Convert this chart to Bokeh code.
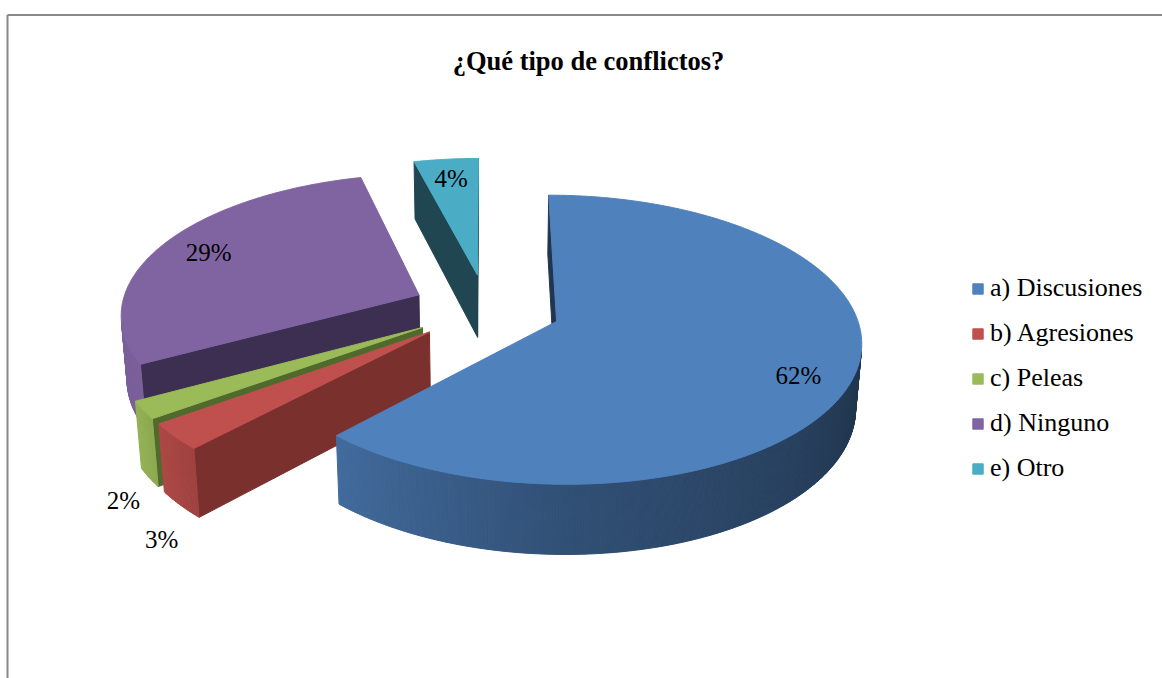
import numpy as np
from bokeh.plotting import figure
from bokeh.models import ColumnDataSource, Legend, LegendItem, Range1d
from bokeh.core.properties import value
from bokeh.embed import file_html
from bokeh.resources import INLINE

# ---------------- data ----------------
title_text = "¿Qué tipo de conflictos?"
categories = ["a) Discusiones", "b) Agresiones", "c) Peleas", "d) Ninguno", "e) Otro"]
values = [62, 3, 2, 29, 4]
top_colors = ["#4F81BD", "#C0504D", "#9BBB59", "#8064A2", "#4BACC6"]
radial_colors = ["#213550", "#7A302D", "#4F6A2C", "#3D2F51", "#1F4651"]
label_inside = [True, False, False, True, True]
label_xoff = [0, -2, -9, 0, 0]
label_yoff = [9, 21, 9, 0, 0]

# ---------------- layout / projection ----------------
W_FIG, H_FIG = 1162, 678
CX, CY = 486.0, 308.0        # screen position of pie centre
G = 298.0                    # horizontal scale (px per radius)
SIN_PHI = 0.4664             # elevation of view
COS_PHI = (1 - SIN_PHI ** 2) ** 0.5
Q = 0.1413                   # perspective strength
EXPLODE = 0.25
HEIGHT = 0.245
CAM_W = -COS_PHI / Q


def den_of(Y, Wd):
    return 1 + Q * (Wd * COS_PHI - Y * SIN_PHI)


def project(X, Y, Wd):
    d = den_of(Y, Wd)
    sx = CX + G * X / d
    sy = CY - G * (Y * COS_PHI + Wd * SIN_PHI) / d
    return sx, H_FIG - sy


def shade(hexc, f):
    rgb = [int(hexc[i:i + 2], 16) for i in (1, 3, 5)]
    return "#%02x%02x%02x" % tuple(max(0, min(255, int(round(c * f)))) for c in rgb)


def visible(nx, nw, px, pw):
    return nx * (0 - px) + nw * (CAM_W - pw) > 0


total = float(sum(values))
side_xs, side_ys, side_col, side_depth = [], [], [], []
top_xs, top_ys = [], []
lab_x, lab_y, lab_t, lab_align, lab_base = [], [], [], [], []

a0 = 0.0
for i, v in enumerate(values):
    a1 = a0 + 360.0 * v / total
    mid = np.radians((a0 + a1) / 2)
    ox, ow = EXPLODE * np.sin(mid), EXPLODE * np.cos(mid)
    n = max(3, int((a1 - a0) * 2) + 1)
    th = np.radians(np.linspace(a0, a1, n))

    # top face
    X = np.concatenate([[ox], ox + np.sin(th)])
    Wd = np.concatenate([[ow], ow + np.cos(th)])
    x, y = project(X, np.zeros_like(X), Wd)
    top_xs.append(list(x)); top_ys.append(list(y))

    # curved outer side
    for j in range(n - 1):
        t0, t1 = th[j], th[j + 1]
        tm = 0.5 * (t0 + t1)
        px, pw = ox + np.sin(tm), ow + np.cos(tm)
        if not visible(np.sin(tm), np.cos(tm), px, pw):
            continue
        Xq = [ox + np.sin(t0), ox + np.sin(t1), ox + np.sin(t1), ox + np.sin(t0)]
        Wq = [ow + np.cos(t0), ow + np.cos(t1), ow + np.cos(t1), ow + np.cos(t0)]
        Yq = [0, 0, -HEIGHT, -HEIGHT]
        x, y = project(np.array(Xq), np.array(Yq, float), np.array(Wq))
        f = np.interp(np.degrees(tm) % 360, [0, 95, 180, 225, 240, 360],
                      [0.38, 0.38, 0.62, 0.84, 0.95, 0.95])
        side_xs.append(list(x)); side_ys.append(list(y))
        side_col.append(shade(top_colors[i], f))
        side_depth.append(den_of(-HEIGHT / 2, pw))

    # radial faces
    for ang, sgn in ((np.radians(a0), -1), (np.radians(a1), 1)):
        nx, nw = sgn * np.cos(ang), -sgn * np.sin(ang)
        px, pw = ox + 0.5 * np.sin(ang), ow + 0.5 * np.cos(ang)
        if not visible(nx, nw, px, pw):
            continue
        Xq = [ox, ox + np.sin(ang), ox + np.sin(ang), ox]
        Wq = [ow, ow + np.cos(ang), ow + np.cos(ang), ow]
        Yq = [0, 0, -HEIGHT, -HEIGHT]
        x, y = project(np.array(Xq), np.array(Yq, float), np.array(Wq))
        side_xs.append(list(x)); side_ys.append(list(y))
        side_col.append(radial_colors[i])
        side_depth.append(den_of(-HEIGHT / 2, pw))

    # data label
    pct = "%d%%" % round(100 * v / total)
    if label_inside[i]:
        rho = 0.82
        lx, ly = project(ox + rho * np.sin(mid), 0.0, ow + rho * np.cos(mid))
        lab_align.append("center"); lab_base.append("middle")
    else:
        rho = 1.0
        lx, ly = project(ox + rho * np.sin(mid), -HEIGHT, ow + rho * np.cos(mid))
        lab_align.append("right"); lab_base.append("top")
    lab_x.append(lx); lab_y.append(ly); lab_t.append(pct)
    a0 = a1

order = np.argsort(side_depth)[::-1]
side_src = ColumnDataSource(dict(
    xs=[side_xs[k] for k in order], ys=[side_ys[k] for k in order],
    color=[side_col[k] for k in order]))
top_src = ColumnDataSource(dict(xs=top_xs, ys=top_ys, color=top_colors, label=categories))

p = figure(width=W_FIG, height=H_FIG, x_range=Range1d(0, W_FIG), y_range=Range1d(0, H_FIG),
           output_backend="svg", toolbar_location=None, min_border=0,
           x_axis_location=None, y_axis_location=None)
p.grid.visible = False
p.outline_line_color = None
p.background_fill_color = "white"
p.border_fill_color = "white"

# chart border (gray frame, continues beyond the visible area right/bottom)
border_top = H_FIG - 14.5
p.segment(x0=[7, 7], y0=[border_top, border_top], x1=[W_FIG + 5, 7], y1=[border_top, -5],
          line_color="#888888", line_width=2)

p.patches("xs", "ys", source=side_src, fill_color="color", line_color="color", line_width=1)
r_top = p.patches("xs", "ys", source=top_src, fill_color="color", line_color="color", line_width=1)

lab_src = ColumnDataSource(dict(x=lab_x, y=lab_y, t=lab_t, align=lab_align, base=lab_base,
                                xo=label_xoff, yo=label_yoff))
p.text(x="x", y="y", text="t", source=lab_src, text_align="align", text_baseline="base",
       x_offset="xo", y_offset="yo", text_font=value("Liberation Serif"),
       text_font_size="25px", text_color="black")

p.text(x=[588], y=[H_FIG - 60], text=[title_text], text_align="center",
       text_baseline="alphabetic", text_font=value("Liberation Serif"),
       text_font_size="26.5px", text_font_style="bold", text_color="black")

legend = Legend(items=[LegendItem(label=categories[i], renderers=[r_top], index=i)
                       for i in range(len(categories))],
                location=(971, H_FIG - 483),
                label_text_font="Liberation Serif", label_text_font_size="26px",
                label_text_color="black", glyph_width=13, glyph_height=13,
                label_standoff=6, spacing=15, label_height=30, padding=0, margin=0,
                border_line_alpha=0, background_fill_alpha=0)
p.add_layout(legend)

open("out.html", "w").write(file_html(p, INLINE))
